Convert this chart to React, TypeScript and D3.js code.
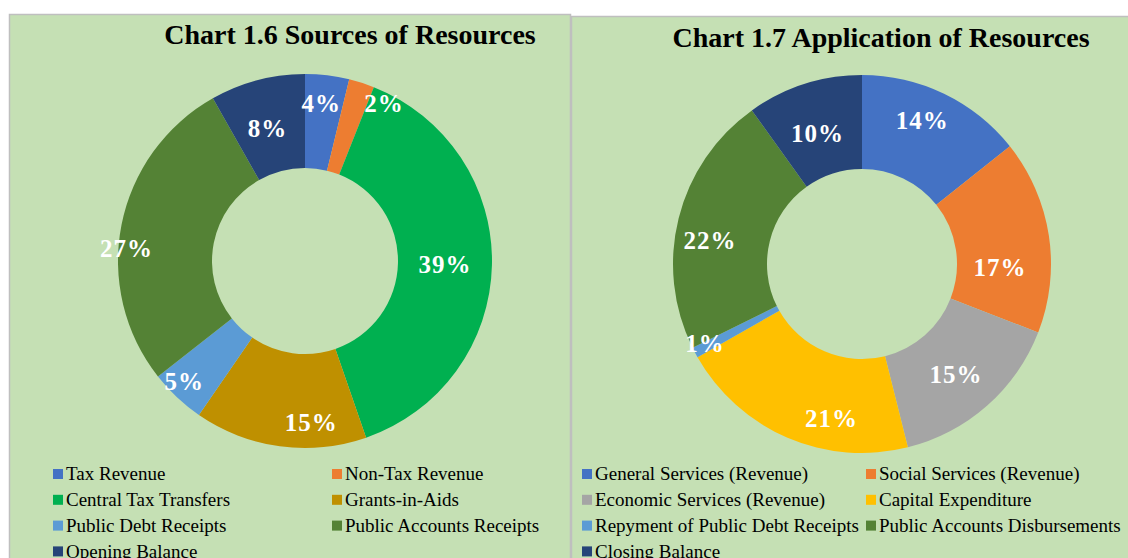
import { useEffect, useRef } from "react";
import * as d3 from "d3";

// Chart 1.6 - sources
const sourceNames = [
  "Tax Revenue",
  "Non-Tax Revenue",
  "Central Tax Transfers",
  "Grants-in-Aids",
  "Public Debt Receipts",
  "Public Accounts Receipts",
  "Opening Balance",
];
const sourceValues = [3.8, 2.2, 38.7, 14.9, 4.8, 27.4, 8.2];
const sourceColors = ["#4472C4", "#ED7D31", "#00B050", "#BF9000", "#5B9BD5", "#548235", "#264478"];
// excel "best fit" label placement: radius and angle nudge (deg)
const sourceLabelR = [159, 176, 140, 161, 170, 179, 138];
const sourceLabelShift = [-1, 9, 0, -10, 2, -7, -1];

// Chart 1.7 - application
const appNames = [
  "General Services (Revenue)",
  "Social Services (Revenue)",
  "Economic Services (Revenue)",
  "Capital Expenditure",
  "Repyment of Public Debt Receipts",
  "Public Accounts Disbursements",
  "Closing Balance",
];
const appValues = [14.3, 16.6, 15.2, 20.7, 0.9, 22.4, 9.9];
const appColors = ["#4472C4", "#ED7D31", "#A5A5A5", "#FFC000", "#5B9BD5", "#548235", "#264478"];
const appLabelR = [156, 138, 145, 157, 176, 154, 138];
const appLabelShift = [-3, 10, 1, -12, 1, -5, -1];

type Panel = {
  title: string;
  names: string[];
  values: number[];
  colors: string[];
  labelR: number[];
  labelShift: number[];
  box: { x: number; y: number; w: number; h: number };
  titleX: number;
  titleY: number;
  cx: number;
  cy: number;
  outer: number;
  inner: number;
  legendX: [number, number];
};

const serif = "'Liberation Serif', 'Times New Roman', serif";

const panels: Panel[] = [
  {
    title: "Chart 1.6 Sources of Resources",
    names: sourceNames,
    values: sourceValues,
    colors: sourceColors,
    labelR: sourceLabelR,
    labelShift: sourceLabelShift,
    box: { x: 9.5, y: 14.5, w: 561, h: 560 },
    titleX: 350,
    titleY: 44,
    cx: 305,
    cy: 261,
    outer: 187,
    inner: 93,
    legendX: [53, 332],
  },
  {
    title: "Chart 1.7 Application of Resources",
    names: appNames,
    values: appValues,
    colors: appColors,
    labelR: appLabelR,
    labelShift: appLabelShift,
    box: { x: 571.5, y: 16.5, w: 570, h: 560 },
    titleX: 881,
    titleY: 47,
    cx: 862,
    cy: 264,
    outer: 189,
    inner: 95,
    legendX: [582, 866],
  },
];

export default function App() {
  const ref = useRef<SVGSVGElement>(null);

  useEffect(() => {
    if (!ref.current) return;
    const svg = d3.select(ref.current);
    svg.selectAll("*").remove();

    svg.append("rect").attr("width", 1128).attr("height", 558).attr("fill", "#ffffff");

    panels.forEach((p) => {
      const g = svg.append("g");
      g.append("rect")
        .attr("x", p.box.x)
        .attr("y", p.box.y)
        .attr("width", p.box.w)
        .attr("height", p.box.h)
        .attr("fill", "#C5E0B4")
        .attr("stroke", "#BFBFBF")
        .attr("stroke-width", 1.5);

      g.append("text")
        .attr("x", p.titleX)
        .attr("y", p.titleY)
        .attr("text-anchor", "middle")
        .style("font-family", serif)
        .style("font-weight", "bold")
        .style("font-size", "28px")
        .attr("fill", "#000")
        .text(p.title);

      const pie = d3.pie<number>().sort(null).value((d) => d);
      const arcs = pie(p.values);
      const arc = d3.arc<d3.PieArcDatum<number>>().innerRadius(p.inner).outerRadius(p.outer);

      const chart = g.append("g").attr("transform", `translate(${p.cx},${p.cy})`);
      chart
        .selectAll("path")
        .data(arcs)
        .join("path")
        .attr("d", arc)
        .attr("fill", (_, i) => p.colors[i]);

      chart
        .selectAll("text")
        .data(arcs)
        .join("text")
        .attr("transform", (d, i) => {
          const a = (d.startAngle + d.endAngle) / 2 + (p.labelShift[i] * Math.PI) / 180;
          const r = p.labelR[i];
          return `translate(${r * Math.sin(a)},${-r * Math.cos(a)})`;
        })
        .attr("text-anchor", "middle")
        .attr("dy", "0.35em")
        .style("font-family", serif)
        .style("font-weight", "bold")
        .style("font-size", "25px")
        .style("letter-spacing", "1px")
        .attr("fill", "#ffffff")
        .text((d) => `${Math.round(d.data)}%`);

      const legend = g.append("g");
      p.names.forEach((name, i) => {
        const col = i % 2;
        const row = Math.floor(i / 2);
        const y = 474 + row * 25.8;
        const x = p.legendX[col];
        legend
          .append("rect")
          .attr("x", x)
          .attr("y", y - 5)
          .attr("width", 10)
          .attr("height", 10)
          .attr("fill", p.colors[i]);
        legend
          .append("text")
          .attr("x", x + 13)
          .attr("y", y)
          .attr("dy", "0.33em")
          .style("font-family", serif)
          .style("font-size", "19px")
          .attr("fill", "#000")
          .text(name);
      });
    });
  }, []);

  return (
    <svg
      ref={ref}
      width={1128}
      height={558}
      style={{ position: "absolute", left: 0, top: 0, display: "block" }}
    />
  );
}
